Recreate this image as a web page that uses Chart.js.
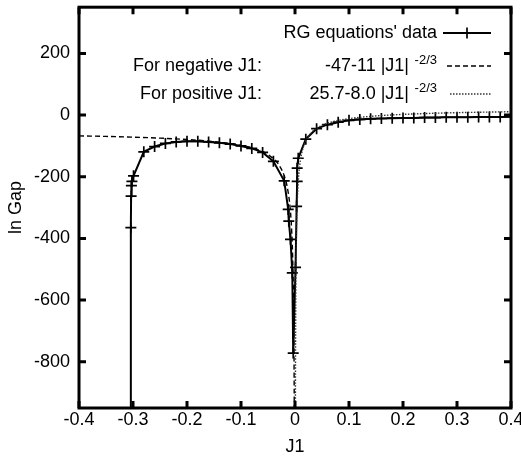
<!DOCTYPE html>
<html>
<head>
<meta charset="utf-8">
<script src="https://cdn.jsdelivr.net/npm/chart.js@4.4.0/dist/chart.umd.min.js"></script>
<style>
html, body { margin: 0; padding: 0; background: #fff; }
</style>
</head>
<body>
<canvas id="gapChart" width="521" height="460"></canvas>
<script>
// RG equations' data (negative branch then positive branch)
const rgX = [-0.3045, -0.304, -0.3035, -0.303, -0.302, -0.299,
	-0.28, -0.26, -0.24, -0.22, -0.20, -0.18, -0.16, -0.14, -0.12, -0.10, -0.08, -0.06, -0.04,
	-0.02, -0.0126, -0.0115, -0.0083, -0.005, -0.0033,
	0.001, 0.003, 0.004, 0.004, 0.006, 0.02, 0.04, 0.06, 0.08, 0.10, 0.12, 0.14, 0.16, 0.18,
	0.20, 0.22, 0.24, 0.26, 0.28, 0.30, 0.32, 0.34, 0.36, 0.38, 0.40];
const rgY = [-1200, -365, -263, -229, -215, -197,
	-119, -102, -92, -87, -85, -85, -87, -90, -94, -100, -108, -121, -150,
	-213, -306, -344, -403, -512, -772,
	-494, -296, -215, -172, -140, -78, -44, -31, -23, -17, -14, -12, -11, -10,
	-9, -9, -8, -8, -7, -7, -7, -6, -6, -6, -5];

// fit for negative J1
const negFitX = [-0.4, -0.35, -0.3, -0.25, -0.2, -0.15, -0.1, -0.07, -0.05, -0.03, -0.02, -0.015,
	-0.01, -0.007, -0.005, -0.004, -0.003, -0.0025, -0.002, -0.0017, -0.0015, -0.0013];
const negFitY = [-67.3, -69.1, -71.5, -74.7, -79.2, -86.0, -98.1, -111.8, -128.0, -160.9, -196.3, -227.9,
	-284.0, -347.7, -423.2, -483.6, -575.8, -644.2, -739.9, -819.2, -886.4, -970.6];

// fit for positive J1
const posFitX = [0.0007, 0.0008, 0.001, 0.0013, 0.0017, 0.002, 0.0025, 0.003, 0.004, 0.005, 0.007,
	0.01, 0.015, 0.02, 0.03, 0.05, 0.07, 0.1, 0.15, 0.2, 0.25, 0.3, 0.35, 0.4];
const posFitY = [-988.7, -902.3, -774.3, -646.0, -535.9, -478.2, -408.6, -358.9, -291.8, -247.9, -192.9,
	-146.7, -105.8, -82.9, -57.2, -33.2, -21.4, -11.4, -2.6, 2.3, 5.5, 7.9, 9.6, 11.0];

const xTicks = [-0.4, -0.3, -0.2, -0.1, 0, 0.1, 0.2, 0.3, 0.4];
const yTicks = [-800, -600, -400, -200, 0, 200];

const legendNames = ["RG equations' data", "For negative J1:", "For positive J1:"];
const legendFormulas = ["", "-47-11 |J1|", "25.7-8.0 |J1|"];
const legendPowers = ["", "-2/3", "-2/3"];

const FONT = "'Liberation Sans', Arial, sans-serif";
Chart.defaults.font.family = FONT;
Chart.defaults.font.size = 18;
Chart.defaults.color = '#000';

function pts(xs, ys) {
	return xs.map((x, i) => ({x: x, y: ys[i]}));
}

const gapData = {
	datasets: [{
		label: legendNames[0],
		data: pts(rgX, rgY),
		borderColor: '#000',
		backgroundColor: '#000',
		borderWidth: 2,
		showLine: true,
		tension: 0,
		pointStyle: 'cross',
		pointRadius: 5.5,
		pointBorderWidth: 1.7,
		clip: 0,
		order: 3
	}, {
		label: legendNames[1],
		data: pts(negFitX, negFitY),
		borderColor: '#000',
		borderWidth: 1.4,
		borderDash: [5, 3],
		showLine: true,
		cubicInterpolationMode: 'monotone',
		pointRadius: 0,
		clip: 0,
		order: 1
	}, {
		label: legendNames[2],
		data: pts(posFitX, posFitY),
		borderColor: '#333',
		borderWidth: 1.4,
		borderDash: [1.5, 1.5],
		showLine: true,
		cubicInterpolationMode: 'monotone',
		pointRadius: 0,
		clip: 0,
		order: 2
	}]
};

// box round the plot with inward ticks on all four sides
const framePlugin = {
	id: 'frame',
	afterDatasetsDraw(chart) {
		const {ctx, chartArea: a, scales: {x, y}} = chart;
		ctx.save();
		ctx.strokeStyle = '#000';
		ctx.lineWidth = 3;
		ctx.beginPath();
		x.ticks.forEach(t => {
			const px = x.getPixelForValue(t.value);
			ctx.moveTo(px, a.bottom); ctx.lineTo(px, a.bottom - 7);
			ctx.moveTo(px, a.top); ctx.lineTo(px, a.top + 7);
		});
		y.ticks.forEach(t => {
			const py = y.getPixelForValue(t.value);
			ctx.moveTo(a.left, py); ctx.lineTo(a.left + 7, py);
			ctx.moveTo(a.right, py); ctx.lineTo(a.right - 7, py);
		});
		ctx.stroke();
		ctx.strokeRect(a.left, a.top, a.right - a.left, a.bottom - a.top);
		ctx.restore();
	}
};

// gnuplot style key in the top right corner
const keyPlugin = {
	id: 'key',
	afterDraw(chart) {
		const ctx = chart.ctx;
		const rows = [33, 66, 94];
		const sampleStart = [443, 447, 450];
		const sx1 = 491;
		ctx.save();
		ctx.fillStyle = '#000';
		ctx.textBaseline = 'middle';
		rows.forEach((ry, i) => {
			const ds = chart.data.datasets[i];
			ctx.font = '18px ' + FONT;
			ctx.textAlign = 'right';
			if (i === 0) {
				ctx.fillText(legendNames[0], 437, ry);
			} else {
				ctx.fillText(legendNames[i], 262, ry);
				ctx.fillText(legendFormulas[i], 409, ry);
				ctx.font = '13px ' + FONT;
				ctx.fillText(legendPowers[i], 437, ry - 6);
			}
			ctx.strokeStyle = ds.borderColor;
			ctx.lineWidth = ds.borderWidth;
			ctx.setLineDash(ds.borderDash || []);
			ctx.beginPath();
			ctx.moveTo(sampleStart[i], ry);
			ctx.lineTo(sx1, ry);
			ctx.stroke();
			ctx.setLineDash([]);
			if (i === 0) {
				const cx = (sampleStart[i] + sx1) / 2;
				ctx.lineWidth = 1.7;
				ctx.beginPath();
				ctx.moveTo(cx, ry - 5.5); ctx.lineTo(cx, ry + 5.5);
				ctx.stroke();
			}
		});
		ctx.restore();
	}
};

const gapChart = new Chart(document.getElementById('gapChart'), {
	type: 'scatter',
	data: gapData,
	options: {
		responsive: false,
		animation: false,
		layout: {padding: {top: 4, right: 10, left: 0, bottom: 0}},
		plugins: {
			legend: {display: false},
			tooltip: {enabled: false}
		},
		scales: {
			x: {
				type: 'linear',
				min: -0.4,
				max: 0.4,
				afterBuildTicks: axis => { axis.ticks = xTicks.map(v => ({value: v})); },
				afterFit: axis => {
					axis.height = 52;
					axis.paddingLeft = 0;
					axis.paddingRight = 0;
				},
				grid: {display: false, drawTicks: false},
				border: {display: false},
				ticks: {
					padding: 1,
					maxRotation: 0,
					callback: v => v === 0 ? '0' : v.toFixed(1)
				},
				title: {display: true, text: 'J1', padding: {top: 0, bottom: 2}}
			},
			y: {
				type: 'linear',
				min: -950,
				max: 350,
				afterBuildTicks: axis => { axis.ticks = yTicks.map(v => ({value: v})); },
				afterFit: axis => {
					axis.width = 79;
					axis.paddingTop = 0;
					axis.paddingBottom = 0;
				},
				grid: {display: false, drawTicks: false},
				border: {display: false},
				ticks: {padding: 9},
				title: {display: true, text: 'ln Gap', padding: {top: 5, bottom: 0}}
			}
		}
	},
	plugins: [framePlugin, keyPlugin]
});
</script>
</body>
</html>
